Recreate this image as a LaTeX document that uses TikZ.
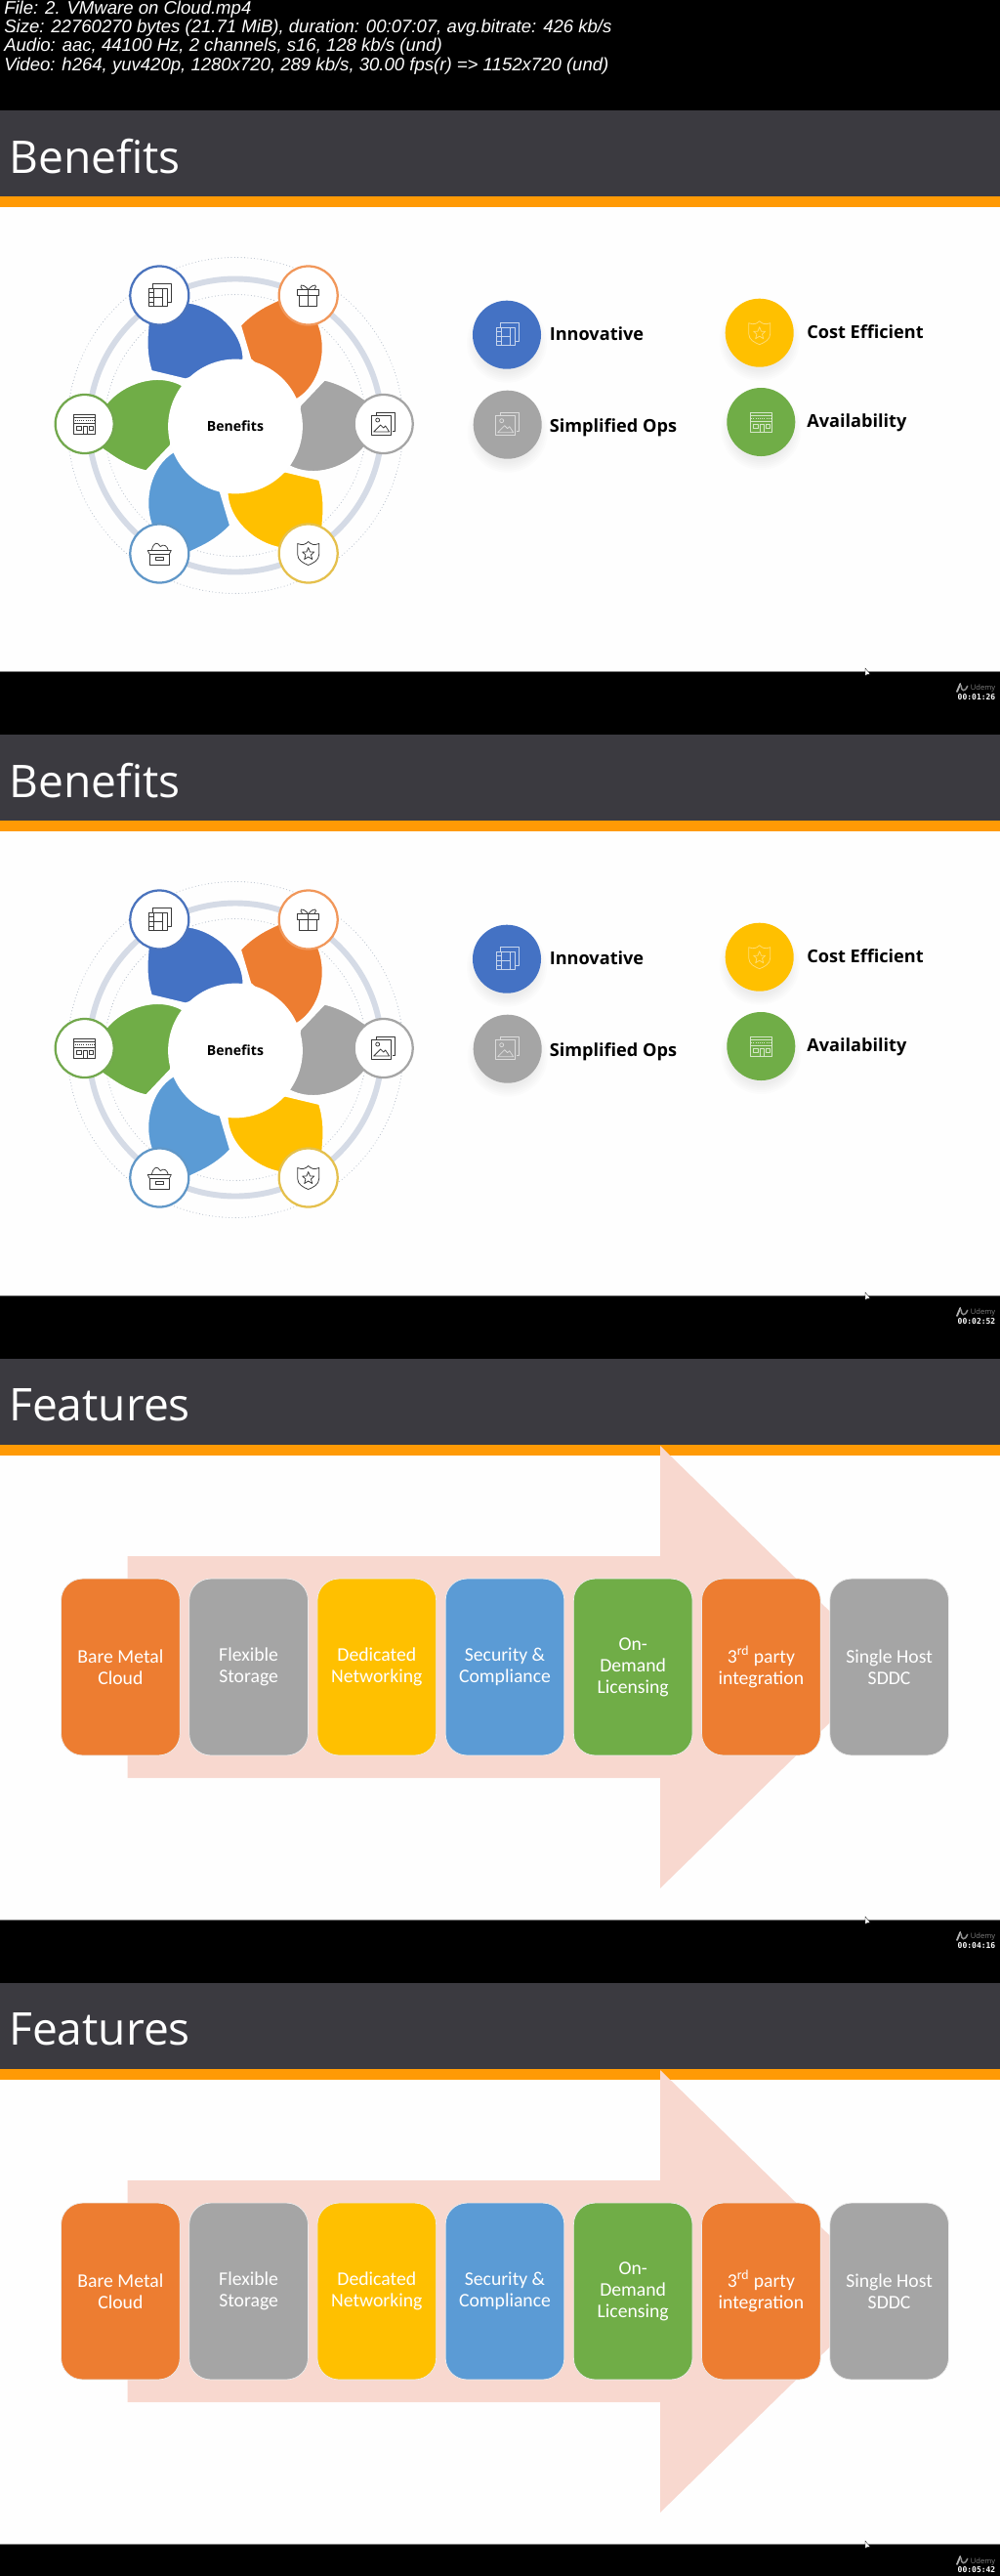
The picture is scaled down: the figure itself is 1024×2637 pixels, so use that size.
\documentclass[tikz,border=0pt]{standalone}
\usepackage{fontspec}
\setmainfont{Open Sans}
\newfontfamily\capfont{Liberation Sans}
\newfontfamily\stampfont{DejaVu Sans Mono}
\newfontfamily\boxfont{Carlito}
\definecolor{hdrdark}{HTML}{3B3A40}
\definecolor{hdrorange}{HTML}{FF9A05}
\definecolor{ringgray}{HTML}{D5DBE6}
\definecolor{dotgray}{HTML}{B8C0CC}
\definecolor{arrowpink}{HTML}{F8D8CF}
\definecolor{icondark}{HTML}{3A3A3A}
\definecolor{pblue}{HTML}{4472C4}
\definecolor{porange}{HTML}{ED7D31}
\definecolor{pgray}{HTML}{A5A5A5}
\definecolor{pyellow}{HTML}{FFC000}
\definecolor{plight}{HTML}{5B9BD5}
\definecolor{pgreen}{HTML}{70AD47}
\tikzset{
  caption/.style = {anchor = west, text = white, font = \capfont\itshape\fontsize{13.2pt}{14pt}\selectfont, inner sep = 0},
  slidetitle/.style = {anchor = west, text = white, font = \fontsize{32.8pt}{40pt}\selectfont, inner sep = 0},
  smallcirc/.style = {circle, fill = white, line width = 1.6pt, minimum size = 1.5cm, inner sep = 0},
  legendcirc/.style = {circle, minimum size = 1.75cm, inner sep = 0},
  legendtext/.style = {anchor = west, font = \bfseries\fontsize{12.9pt}{14pt}\selectfont, inner sep = 0},
  featbox/.style = {rounded corners = 0.55cm, draw = white!85!gray, line width = 0.5pt, text = white, align = center,
    minimum width = 3.04cm, minimum height = 4.52cm, inner sep = 0, font = \boxfont\fontsize{14pt}{15.7pt}\selectfont},
  stamptext/.style = {text = white, font = \stampfont\bfseries\fontsize{5.7pt}{6pt}\selectfont, inner sep = 0},
  udemytext/.style = {text = gray, font = \fontsize{5.4pt}{6pt}\selectfont, inner sep = 0},
  petal/.style = {draw = white, line width = 1.1pt},
  dotring/.style = {dotgray, line width = 0.8pt, line cap = round, dash pattern = on 0pt off 2.4pt},
  iconline/.style = {line width = 0.55pt, line join = round},
  filmicon/.pic = {
    \draw[iconline] (-7, -7) -- (-7, -12) -- (12, -12) -- (12, 7) -- (8, 7);
    \draw[iconline] (-11, -7) rectangle (8, 11);
    \draw[iconline] (-6, -7) -- (-6, 11);
    \draw[iconline] (3, -7) -- (3, 11);
    \draw[iconline] (-6, 2) -- (3, 2);
    \draw[iconline] (-11, -3) -- (-6, -3);
    \draw[iconline] (-11, 2) -- (-6, 2);
    \draw[iconline] (-11, 7) -- (-6, 7);
  },
  gifticon/.pic = {
    \draw[iconline] (-11, -6) rectangle (11, 0);
    \draw[iconline] (-9, 0) rectangle (9, 11);
    \draw[iconline] (0, -6) -- (0, 11);
    \draw[iconline] (0, -6) .. controls (-7, -14) and (-10, -10) .. (-6, -6);
    \draw[iconline] (0, -6) .. controls (7, -14) and (10, -10) .. (6, -6);
  },
  imageicon/.pic = {
    \draw[iconline] (-7, -9) -- (-7, -12) -- (12, -12) -- (12, 7) -- (9, 7);
    \draw[iconline] (-12, -9) rectangle (8, 11);
    \draw[iconline] (-6, -4) circle [radius = 2];
    \draw[iconline] (-10, 8) -- (-3, 1) -- (0, 4) -- (2, 2) -- (6, 8) -- cycle;
  },
  shieldicon/.pic = {
    \draw[iconline] (-11, -10) .. controls (-6, -8) and (-3, -9) .. (0, -12) .. controls (3, -9) and (6, -8) .. (11, -10)
      -- (11, 1) .. controls (11, 7) and (5, 10) .. (0, 12) .. controls (-5, 10) and (-11, 7) .. (-11, 1) -- cycle;
    \draw[iconline] (0, -6) -- (1.8, -1.5) -- (6, -1.5) -- (2.8, 1.5) -- (4, 6) -- (0, 3.5) -- (-4, 6) -- (-2.8, 1.5) -- (-6, -1.5) -- (-1.8, -1.5) -- cycle;
  },
  boxicon/.pic = {
    \draw[iconline] (-12, -3) -- (12, -3) -- (10, 1) -- (-10, 1) -- cycle;
    \draw[iconline] (-10, 1) rectangle (10, 12);
    \draw[iconline] (-4, 4) rectangle (4, 7);
    \draw[iconline] (-8, -3) .. controls (-6, -12) and (-2, -12) .. (1, -7) .. controls (4, -10) and (8, -8) .. (9, -3);
  },
  shopicon/.pic = {
    \draw[iconline] (-11, -10) rectangle (11, 10);
    \draw[iconline] (-11, -6.5) -- (11, -6.5);
    \draw[iconline, densely dotted] (-10, -3.5) -- (10, -3.5);
    \draw[iconline] (-11, -1) -- (11, -1);
    \draw[iconline] (-8, 2) rectangle (-3, 6.5);
    \draw[iconline] (-1, 10) -- (-1, 2) -- (3, 2) -- (3, 10);
    \draw[iconline] (5, 2) rectangle (9, 6.5);
  },
}

\begin{document}
\begin{tikzpicture} [x = 0.025cm, y = -0.025cm]
\useasboundingbox (0, 0) rectangle (1024, 2637);
\fill[black] (0, 0) rectangle (1024, 2637);
\node[caption] (capfile) at (4, 10) {File: 2. VMware on Cloud.mp4};
\node[caption] (capsize) at (4, 29) {Size: 22760270 bytes (21.71 MiB), duration: 00:07:07, avg.bitrate: 426 kb/s};
\node[caption] (capaudio) at (4, 48) {Audio: aac, 44100 Hz, 2 channels, s16, 128 kb/s (und)};
\node[caption] (capvideo) at (4, 67.5) {Video: h264, yuv420p, 1280x720, 289 kb/s, 30.00 fps(r) => 1152x720 (und)};
\foreach \slide/\ytop/\heading/\stamp in {a/113/Benefits/00:01:26, b/752/Benefits/00:02:52, c/1391/Features/00:04:16, d/2030/Features/00:05:42} {
\begin{scope}[shift = {(0, \ytop)}]
\fill[white!99!gray] (0, 0) rectangle (1024, 574);
\draw[gray, line width = 0.5pt] (0, 574) -- (1024, 574);
\fill[hdrdark] (0, 0) rectangle (1024, 88);
\fill[hdrorange] (0, 88) rectangle (1024, 99);
\node[slidetitle] (title\slide) at (9, 47) {\heading};
\draw[gray!60, line width = 1.3pt, line cap = round] (980, 595) -- (983.3, 587);
\draw[gray!90, line width = 1.1pt, line cap = round] (984, 588.7) .. controls (984.5, 595) and (988, 595.5) .. (990.7, 589.3);
\node[udemytext] (udemy\slide) at (1006.5, 592) {Udemy};
\node[stamptext] (stamp\slide) at (1000, 601) {\stamp};
\fill[white, draw = black, line width = 0.2pt] (886, 571) -- (886, 579) -- (888, 577.5) -- (891, 577) -- cycle;
\end{scope}
}
\foreach \slide/\ytop in {a/113, b/752} {
\begin{scope}[shift = {(0, \ytop)}]
\begin{scope}[shift = {(241, 322.5)}]
\draw[dotring] (0, 0) circle [radius = 172];
\draw[dotring] (0, 0) circle [radius = 134];
\draw[ringgray, line width = 4.2pt] (0, 0) circle [radius = 150];
\foreach \turn/\shade in {0/pblue, 1/porange, 2/pgray, 3/pyellow, 4/plight, 5/pgreen} {
\filldraw[petal, fill = \shade, rotate = -60 * \turn] (8.3, -67.3) .. controls (8.3, -96.7) and (-20, -121.7) .. (-47.7, -125.7)
  -- (-77.7, -133.3) -- (-87.7, -122.3) -- (-90, -92.3) .. controls (-91, -78) and (-89, -65) .. (-86, -55.7)
  -- (-51, -47.3) -- cycle;
}
\node[circle, fill = white, draw = white, line width = 1.2pt, minimum size = 3.4cm, inner sep = 0, font = \bfseries\fontsize{10pt}{12pt}\selectfont] (hub\slide) at (0, 1) {Benefits};
\node[smallcirc, draw = pblue!90!gray] (film\slide) at (-77.7, -133) {};
\node[smallcirc, draw = porange!80!white] (gift\slide) at (74.7, -133) {};
\node[smallcirc, draw = pgray] (image\slide) at (151.7, -1.5) {};
\node[smallcirc, draw = pyellow!75!gray!80!white] (shield\slide) at (74.7, 131) {};
\node[smallcirc, draw = plight!85!gray] (box\slide) at (-77.7, 131) {};
\node[smallcirc, draw = pgreen!90!gray] (shop\slide) at (-154.3, -1.5) {};
\pic[color = icondark] at (film\slide) {filmicon};
\pic[color = icondark] at (gift\slide) {gifticon};
\pic[color = icondark] at (image\slide) {imageicon};
\pic[color = icondark] at (shield\slide) {shieldicon};
\pic[color = icondark] at (box\slide) {boxicon};
\pic[color = icondark] at (shop\slide) {shopicon};
\end{scope}
\foreach \gx/\gy in {519/229.7, 519.7/321.7, 777.7/227.7, 779.3/319} {
\foreach \grow in {1, 3, ..., 11} {
\fill[black, opacity = 0.012] (\gx, \gy + 8) circle [radius = 30 + \grow];
}
}
\node[legendcirc, fill = pblue] (legfilm\slide) at (519, 229.7) {};
\node[legendcirc, fill = pgray] (legimage\slide) at (519.7, 321.7) {};
\node[legendcirc, fill = pyellow] (legshield\slide) at (777.7, 227.7) {};
\node[legendcirc, fill = pgreen] (legshop\slide) at (779.3, 319) {};
\pic[color = white!70!pblue] at (legfilm\slide) {filmicon};
\pic[color = white!60!pgray] at (legimage\slide) {imageicon};
\pic[color = white!45!pyellow] at (legshield\slide) {shieldicon};
\pic[color = white!70!pgreen] at (legshop\slide) {shopicon};
\node[legendtext] (innov\slide) at (562.5, 228.7) {Innovative};
\node[legendtext] (simple\slide) at (562.5, 325.2) {Simplified Ops};
\node[legendtext] (cost\slide) at (826, 227) {Cost Efficient};
\node[legendtext] (avail\slide) at (826, 319.6) {Availability};
\end{scope}
}
\foreach \slide/\ytop in {c/1391, d/2030} {
\begin{scope}[shift = {(0, \ytop)}]
\fill[arrowpink] (130.6, 202) -- (676, 202) -- (676, 89) -- (908, 315.5) -- (676, 542) -- (676, 429) -- (130.6, 429) -- cycle;
\node[featbox, fill = porange] (bare\slide) at (123.4, 315.5) {Bare Metal\\Cloud};
\node[featbox, fill = pgray] (store\slide) at (254.6, 315.5) {Flexible\\Storage};
\node[featbox, fill = pyellow] (net\slide) at (385.8, 315.5) {Dedicated\\Networking};
\node[featbox, fill = plight] (secure\slide) at (517, 315.5) {Security \&\\Compliance};
\node[featbox, fill = pgreen] (license\slide) at (648.2, 315.5) {On-\\Demand\\Licensing};
\node[featbox, fill = porange] (third\slide) at (779.4, 315.5) {3\textsuperscript{rd} party\\integration};
\node[featbox, fill = pgray] (sddc\slide) at (910.6, 315.5) {Single Host\\SDDC};
\end{scope}
}
\end{tikzpicture}
\end{document}
